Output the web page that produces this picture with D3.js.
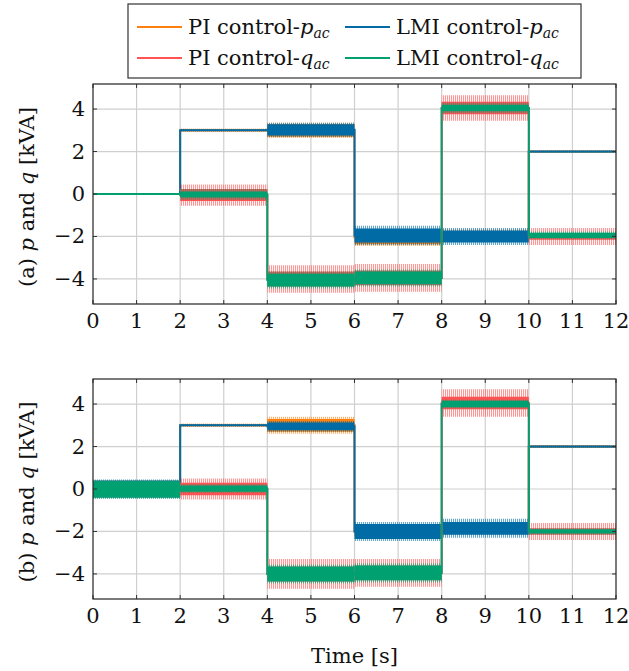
<!DOCTYPE html>
<html>
<head>
<meta charset="utf-8">
<script src="https://cdn.jsdelivr.net/npm/d3@7"></script>
<style>
  body { margin: 0; background: #fff; }
</style>
</head>
<body>
<svg id="chart"></svg>
<script>
// step times [s]
const times = [0, 2, 4, 6, 8, 10, 12]
const xTicks = [0, 1, 2, 3, 4, 5, 6, 7, 8, 9, 10, 11, 12]
const yTicks = [-4, -2, 0, 2, 4]

// each row = one interval: [mean, core half-width, spike half-width] in kVA
// panel (a)
const a_PI_p  = [[0, 0.03, 0.05], [3.0, 0.04, 0.08], [3.0, 0.3, 0.36], [-2.05, 0.32, 0.4], [-1.9, 0.15, 0.24], [2.0, 0.03, 0.06]]
const a_LMI_p = [[0, 0.02, 0.03], [3.0, 0.03, 0.05], [3.02, 0.27, 0.33], [-1.95, 0.33, 0.45], [-2.0, 0.28, 0.4], [2.0, 0.03, 0.05]]
const a_PI_q  = [[0, 0.02, 0.03], [-0.05, 0.28, 0.5], [-4.0, 0.35, 0.65], [-3.95, 0.35, 0.65], [4.05, 0.3, 0.6], [-2.0, 0.15, 0.4]]
const a_LMI_q = [[0, 0.03, 0.05], [-0.02, 0.14, 0.25], [-4.05, 0.3, 0.4], [-3.95, 0.3, 0.4], [4.05, 0.15, 0.25], [-1.95, 0.12, 0.18]]
// panel (b)
const b_PI_p  = [[0, 0.3, 0.35], [3.0, 0.04, 0.08], [3.0, 0.3, 0.4], [-2.0, 0.2, 0.3], [-2.0, 0.1, 0.15], [2.0, 0.04, 0.07]]
const b_LMI_p = [[0, 0.4, 0.45], [3.0, 0.03, 0.05], [2.95, 0.18, 0.25], [-2.0, 0.35, 0.45], [-1.85, 0.3, 0.45], [2.0, 0.03, 0.05]]
const b_PI_q  = [[0, 0.3, 0.4], [0.0, 0.3, 0.5], [-4.0, 0.35, 0.7], [-3.95, 0.35, 0.65], [4.05, 0.3, 0.65], [-2.0, 0.15, 0.4]]
const b_LMI_q = [[-0.02, 0.38, 0.44], [0.02, 0.15, 0.2], [-4.0, 0.35, 0.45], [-3.95, 0.35, 0.45], [4.0, 0.15, 0.2], [-2.0, 0.1, 0.15]]

const seriesNames = ["PI control-p", "LMI control-p", "PI control-q", "LMI control-q"]
const colors = ["#ff800e", "#006ba4", "#ff5252", "#00a070"]

const panels = [
  { label: "(a)", series: [a_PI_p, a_LMI_p, a_PI_q, a_LMI_q], top: 84 },
  { label: "(b)", series: [b_PI_p, b_LMI_p, b_PI_q, b_LMI_q], top: 379 }
]

const W = 629, H = 671
const left = 93, plotW = 523, plotH = 220
const font = "'DejaVu Serif', 'Liberation Serif', serif"
const fs = "21px"

const svg = d3.select("#chart").attr("width", W).attr("height", H)
  .attr("font-family", font).style("font-family", font)

// fine striped fills give the outer noise band a spiky look
const defs = svg.append("defs")
colors.forEach((c, k) => {
  const pat = defs.append("pattern").attr("id", "spk" + k)
    .attr("patternUnits", "userSpaceOnUse").attr("width", 2).attr("height", 6)
  pat.append("rect").attr("width", 1.1).attr("height", 6).style("fill", c)
})

const x = d3.scaleLinear().domain([0, 12]).range([0, plotW])
const y = d3.scaleLinear().domain([-5.18, 5.18]).range([plotH, 0])

const band = d3.area()
  .x(d => x(d.t))
  .y0(d => y(d.lo))
  .y1(d => y(d.hi))

const step = d3.line()
  .x(d => x(d[0]))
  .y(d => y(d[1]))
  .curve(d3.curveStepAfter)

panels.forEach(p => {
  const g = svg.append("g").attr("transform", "translate(" + left + "," + p.top + ")")

  // grid
  g.append("g").selectAll("line").data(xTicks.slice(1, -1)).enter().append("line")
    .attr("x1", d => x(d)).attr("x2", d => x(d)).attr("y1", 0).attr("y2", plotH)
    .style("stroke", "#cfcfcf").style("stroke-width", 1.2)
  g.append("g").selectAll("line").data(yTicks).enter().append("line")
    .attr("x1", 0).attr("x2", plotW).attr("y1", d => y(d)).attr("y2", d => y(d))
    .style("stroke", "#cfcfcf").style("stroke-width", 1.2)

  const clip = "clip" + p.label.replace(/\W/g, "")
  g.append("clipPath").attr("id", clip).append("rect").attr("width", plotW).attr("height", plotH)
  const plot = g.append("g").attr("clip-path", "url(#" + clip + ")")

  p.series.forEach((s, k) => {
    const sg = plot.append("g")
    s.forEach((seg, i) => {
      const t0 = times[i], t1 = times[i + 1]
      const outer = [{ t: t0, lo: seg[0] - seg[2], hi: seg[0] + seg[2] }, { t: t1, lo: seg[0] - seg[2], hi: seg[0] + seg[2] }]
      const core = [{ t: t0, lo: seg[0] - seg[1], hi: seg[0] + seg[1] }, { t: t1, lo: seg[0] - seg[1], hi: seg[0] + seg[1] }]
      sg.append("path").attr("d", band(outer)).style("fill", "url(#spk" + k + ")").style("opacity", 0.6)
      sg.append("path").attr("d", band(core)).style("fill", colors[k])
    })
    const pts = s.map((seg, i) => [times[i], seg[0]])
    pts.push([12, s[s.length - 1][0]])
    sg.append("path").attr("d", step(pts))
      .style("fill", "none").style("stroke", colors[k]).style("stroke-width", 2)
  })

  // ticks inside on all sides
  const tk = 4
  g.append("g").selectAll("line").data(xTicks).enter().append("line")
    .attr("x1", d => x(d)).attr("x2", d => x(d)).attr("y1", plotH).attr("y2", plotH - tk)
    .style("stroke", "#333")
  g.append("g").selectAll("line").data(xTicks).enter().append("line")
    .attr("x1", d => x(d)).attr("x2", d => x(d)).attr("y1", 0).attr("y2", tk)
    .style("stroke", "#333")
  g.append("g").selectAll("line").data(yTicks).enter().append("line")
    .attr("x1", 0).attr("x2", tk).attr("y1", d => y(d)).attr("y2", d => y(d))
    .style("stroke", "#333")
  g.append("g").selectAll("line").data(yTicks).enter().append("line")
    .attr("x1", plotW).attr("x2", plotW - tk).attr("y1", d => y(d)).attr("y2", d => y(d))
    .style("stroke", "#333")

  g.append("rect").attr("width", plotW).attr("height", plotH)
    .style("fill", "none").style("stroke", "#222").style("stroke-width", 1.2)

  // tick labels
  g.append("g").selectAll("text").data(xTicks).enter().append("text")
    .attr("x", d => x(d)).attr("y", plotH + 24)
    .attr("text-anchor", "middle").style("font-size", fs).style("fill", "#111")
    .text(d => d)
  g.append("g").selectAll("text").data(yTicks).enter().append("text")
    .attr("x", -8).attr("y", d => y(d) + 7)
    .attr("text-anchor", "end").style("font-size", fs).style("fill", "#111")
    .text(d => d < 0 ? "\u2212" + Math.abs(d) : d)

  // y label
  const yl = g.append("text")
    .attr("transform", "translate(" + (34 - left) + "," + (plotH / 2 + 3) + ") rotate(-90)")
    .attr("text-anchor", "middle").style("font-size", fs).style("fill", "#111")
  yl.append("tspan").text(p.label + " ")
  yl.append("tspan").style("font-style", "italic").text("p")
  yl.append("tspan").text(" and ")
  yl.append("tspan").style("font-style", "italic").text("q")
  yl.append("tspan").text(" [kVA]")
})

svg.append("text").attr("x", left + plotW / 2).attr("y", 663)
  .attr("text-anchor", "middle").style("font-size", fs).style("fill", "#111").text("Time [s]")

// legend
const legend = svg.append("g")
legend.append("rect").attr("x", 128).attr("y", 4).attr("width", 453).attr("height", 74)
  .style("fill", "#fff").style("stroke", "#333").style("stroke-width", 1.2)
const legPos = [[137, 27], [345, 27], [137, 58], [345, 58]]
seriesNames.forEach((name, k) => {
  const [lx, ly] = legPos[k]
  legend.append("line").attr("x1", lx).attr("x2", lx + 45).attr("y1", ly).attr("y2", ly)
    .style("stroke", colors[k]).style("stroke-width", 2)
  const t = legend.append("text").attr("x", lx + 51).attr("y", ly + 7).style("font-size", fs).style("fill", "#111")
  const parts = name.split("-")
  t.append("tspan").text(parts[0] + "-")
  t.append("tspan").style("font-style", "italic").text(parts[1])
  t.append("tspan").style("font-style", "italic").style("font-size", "14px").attr("dy", 4).text("ac")
})
</script>
</body>
</html>
